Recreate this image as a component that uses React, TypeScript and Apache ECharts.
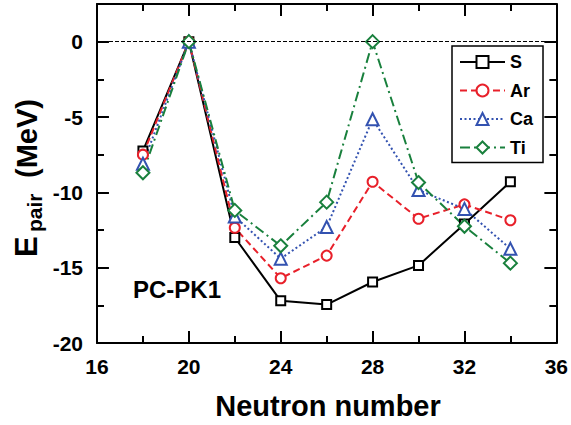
import React, { useEffect, useRef } from "react";
import * as echarts from "echarts";

const neutrons = [18, 20, 22, 24, 26, 28, 30, 32, 34];
const sVals = [-7.25, 0, -13.0, -17.2, -17.45, -15.95, -14.85, -12.1, -9.3];
const arVals = [-7.5, 0, -12.35, -15.7, -14.2, -9.3, -11.75, -10.8, -11.85];
const caVals = [-8.1, 0, -11.6, -14.4, -12.3, -5.15, -9.85, -11.1, -13.75];
const tiVals = [-8.7, 0, -11.2, -13.55, -10.65, 0, -9.35, -12.25, -14.7];
const seriesNames = ["S", "Ar", "Ca", "Ti"];

const xMajorTicks = [16, 20, 24, 28, 32, 36];
const xMinorTicks = [18, 22, 26, 30, 34];
const yMajorTicks = [-20, -15, -10, -5, 0];
const yMinorTicks = [-17.5, -12.5, -7.5, -2.5];

const X_MIN = 16;
const X_MAX = 36;
const Y_MIN = -20;
const Y_MAX = 2.5;

const FONT = "'Liberation Sans', Arial, Helvetica, sans-serif";

export default function App() {
  const ref = useRef<HTMLDivElement>(null);
  useEffect(() => {
    if (!ref.current) return;
    const chart = echarts.init(ref.current, null, { renderer: "svg" });
    const toPairs = (vals: number[]) => neutrons.map((n, i) => [n, vals[i]]);

    // tick lengths expressed in axis units (grid is 461 px for 20 units in x, 339 px for 22.5 units in y)
    const xUnitPx = 461 / (X_MAX - X_MIN);
    const yUnitPx = 339 / (Y_MAX - Y_MIN);
    const vLen = (px: number) => px / yUnitPx;
    const hLen = (px: number) => px / xUnitPx;
    const solid = { type: "solid", width: 2, color: "#000" };
    const seg = (a: number[], b: number[]) => [
      { coord: a, lineStyle: solid },
      { coord: b, lineStyle: solid },
    ];
    const tickSegs: any[] = [];
    const addX = (vals: number[], px: number) =>
      vals.forEach((v) => {
        tickSegs.push(seg([v, Y_MIN], [v, Y_MIN + vLen(px)]));
        tickSegs.push(seg([v, Y_MAX], [v, Y_MAX - vLen(px)]));
      });
    const addY = (vals: number[], px: number) =>
      vals.forEach((v) => {
        tickSegs.push(seg([X_MIN, v], [X_MIN + hLen(px), v]));
        tickSegs.push(seg([X_MAX, v], [X_MAX - hLen(px), v]));
      });
    addX(xMajorTicks, 12);
    addX(xMinorTicks, 7);
    addY(yMajorTicks, 12);
    addY(yMinorTicks, 7);

    const xBase = (pos: string, showLabel: boolean) => ({
      type: "value",
      position: pos,
      min: X_MIN,
      max: X_MAX,
      interval: 4,
      axisLine: { show: true, onZero: false, lineStyle: { color: "#000", width: 2 } },
      axisTick: { show: false },
      minorTick: { show: false },
      splitLine: { show: false },
      minorSplitLine: { show: false },
      axisLabel: {
        show: showLabel,
        fontSize: 21,
        fontWeight: "bold",
        color: "#000",
        fontFamily: FONT,
        margin: 13,
      },
    });
    const yBase = (pos: string, showLabel: boolean) => ({
      type: "value",
      position: pos,
      min: Y_MIN,
      max: Y_MAX,
      interval: 5,
      axisLine: { show: true, onZero: false, lineStyle: { color: "#000", width: 2 } },
      axisTick: { show: false },
      minorTick: { show: false },
      splitLine: { show: false },
      axisLabel: {
        show: showLabel,
        fontSize: 21,
        fontWeight: "bold",
        color: "#000",
        fontFamily: FONT,
        margin: 14,
        formatter: (v: number) => (Math.abs(v % 5) < 1e-9 ? String(v) : ""),
      },
    });
    const mk = (
      name: string,
      vals: number[],
      color: string,
      symbol: string,
      size: number,
      type: any
    ) => ({
      name,
      type: "line",
      data: toPairs(vals),
      xAxisIndex: 0,
      yAxisIndex: 0,
      symbol,
      symbolSize: size,
      showAllSymbol: true,
      lineStyle: { color, width: 2, type },
      itemStyle: { color, borderColor: color, borderWidth: 1.6 },
      z: 3,
    });
    const series: any[] = [
      {
        ...mk(seriesNames[0], sVals, "#000000", "emptyRect", 9, "solid"),
        markLine: {
          silent: true,
          symbol: ["none", "none"],
          label: { show: false },
          lineStyle: { color: "#000", width: 1, type: "dashed" },
          data: [
            { yAxis: 0, lineStyle: { color: "#000", width: 1, type: "dashed" } },
            ...tickSegs,
          ],
        },
      },
      mk(seriesNames[1], arVals, "#e8202a", "emptyCircle", 10, [7, 4]),
      mk(seriesNames[2], caVals, "#3352b0", "emptyTriangle", 12, [2, 2.5]),
      mk(seriesNames[3], tiVals, "#19803d", "emptyDiamond", 13, [10, 4, 2, 4]),
    ];
    chart.setOption({
      animation: false,
      backgroundColor: "#fff",
      grid: { left: 97, right: 13, top: 4, bottom: 82, containLabel: false },
      xAxis: [xBase("bottom", true), xBase("top", false)],
      yAxis: [yBase("left", true), yBase("right", false)],
      legend: {
        show: true,
        orient: "vertical",
        left: 452,
        top: 46,
        itemWidth: 45,
        itemHeight: 15,
        itemGap: 10.5,
        padding: [7, 10, 6, 7],
        borderColor: "#000",
        borderWidth: 1.5,
        backgroundColor: "#fff",
        textStyle: { fontSize: 18, fontWeight: "bold", color: "#000", fontFamily: FONT },
        data: seriesNames,
      },
      series,
      graphic: [
        {
          type: "text",
          x: 177,
          y: 289,
          style: {
            text: "PC-PK1",
            fontSize: 24,
            fontWeight: "bold",
            fontFamily: FONT,
            fill: "#000",
            textAlign: "center",
            textVerticalAlign: "middle",
          },
        },
        {
          type: "text",
          x: 328,
          y: 406,
          style: {
            text: "Neutron number",
            fontSize: 29,
            fontWeight: "bold",
            fontFamily: FONT,
            fill: "#000",
            textAlign: "center",
            textVerticalAlign: "middle",
          },
        },
        {
          type: "group",
          x: 37,
          y: 257,
          rotation: Math.PI / 2,
          children: [
            {
              type: "text",
              x: 0,
              y: -11,
              style: {
                text: "E",
                fontSize: 31,
                fontWeight: "bold",
                fontFamily: FONT,
                fill: "#000",
                textAlign: "left",
                textVerticalAlign: "middle",
              },
            },
            {
              type: "text",
              x: 25,
              y: -3,
              style: {
                text: "pair",
                fontSize: 21,
                fontWeight: "bold",
                fontFamily: FONT,
                fill: "#000",
                textAlign: "left",
                textVerticalAlign: "middle",
              },
            },
            {
              type: "text",
              x: 79,
              y: -10,
              style: {
                text: "(MeV)",
                fontSize: 29,
                fontWeight: "bold",
                fontFamily: FONT,
                fill: "#000",
                textAlign: "left",
                textVerticalAlign: "middle",
              },
            },
          ],
        },
      ],
    });
    return () => chart.dispose();
  }, []);
  return (
    <div
      ref={ref}
      style={{ position: "absolute", left: 0, top: 0, width: 571, height: 425 }}
    />
  );
}
